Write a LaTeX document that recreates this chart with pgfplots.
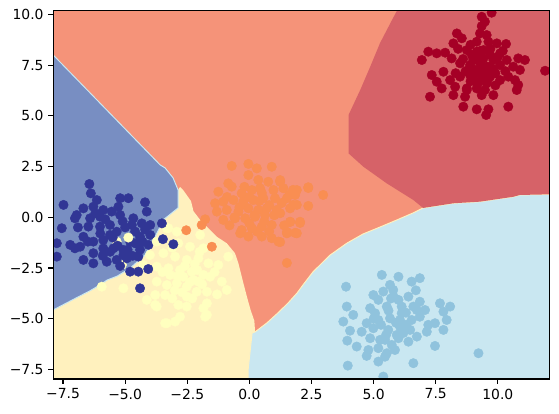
\documentclass[border=0pt]{standalone}
\usepackage{fontspec}
\setmainfont{DejaVu Sans}
\usepackage{pgfplots}
\pgfplotsset{compat=1.18}
\definecolor{regRed}{RGB}{214,98,104}
\definecolor{regSalmon}{RGB}{245,147,121}
\definecolor{regYellow}{RGB}{255,241,190}
\definecolor{regLBlue}{RGB}{201,231,241}
\definecolor{regBlue}{RGB}{120,142,194}
\definecolor{ptRed}{RGB}{165,0,38}
\definecolor{ptOrange}{RGB}{249,142,82}
\definecolor{ptYellow}{RGB}{255,255,191}
\definecolor{ptLBlue}{RGB}{144,195,221}
\definecolor{ptBlue}{RGB}{49,54,149}
\begin{document}
\begin{tikzpicture}
\begin{axis}[name=ax,
  scale only axis, width=357.1pt, height=265.2pt,
  xmin=-7.89, xmax=12.07, ymin=-7.97, ymax=10.18,
  xtick={-7.5,-5,-2.5,0,2.5,5,7.5,10},
  xticklabels={−7.5,−5.0,−2.5,0.0,2.5,5.0,7.5,10.0},
  ytick={-7.5,-5,-2.5,0,2.5,5,7.5,10},
  yticklabels={−7.5,−5.0,−2.5,0.0,2.5,5.0,7.5,10.0},
  xtick pos=bottom, ytick pos=left,
  tick align=outside, major tick length=3.5pt,
  every tick/.style={black, line width=0.8pt},
  axis line style={line width=0.8pt},
  tick label style={font=\fontsize{10}{12}\selectfont},
  axis on top, clip marker paths=true,
  pts/.style={only marks, mark=*, mark size=3.4pt, color=#1, mark options={draw=#1, fill=#1, line width=0.3pt}},
]
% background (class 1 region)
\addplot[fill=regSalmon, draw=none] coordinates {(-8.5,-8.5) (12.5,-8.5) (12.5,10.5) (-8.5,10.5)} -- cycle;
% class 2 region (light yellow)
\addplot[fill=regYellow, draw=none] coordinates {
(-8.5,-8.5) (-8.5,0) (-2.87,0.46) (-2.87,1.35) (-2.79,1.49) (-2.67,1.35) (-2.35,0.8) (-2.25,0.3) (-2.0,-0.1) (-1.7,-0.48) (-1.31,-0.96) (-0.91,-1.28) (-0.58,-1.77) (-0.44,-2.27) (-0.24,-3.25) (-0.10,-3.91) (0.05,-4.57) (0.2,-5.1) (0.23,-5.65) (0.6,-6.0) (0.6,-8.5)} -- cycle;
% class 4 region (blue)
\addplot[fill=regBlue, draw=regLBlue, line width=0.7pt] coordinates {
(-8.2,8.38) (-3.59,2.58) (-3.39,2.43) (-3.07,1.94) (-2.87,1.35) (-2.87,0.46) (-3.47,-0.13) (-3.59,-0.46) (-3.85,-1.1) (-4.20,-1.86) (-4.80,-2.51) (-5.32,-2.90) (-5.72,-3.09) (-6.01,-3.33) (-6.41,-3.62) (-7.09,-4.05) (-7.90,-4.57) (-8.2,-4.7)} -- cycle;
% class 3 region (light blue)
\addplot[fill=regLBlue, draw=regYellow, line width=0.7pt] coordinates {
(-0.05,-8.5) (-0.05,-7.51) (0.11,-5.70) (0.23,-5.65) (0.71,-5.20) (1.15,-4.71) (1.56,-4.22) (1.92,-3.73) (2.16,-3.33) (2.56,-2.69) (3.25,-1.86) (3.93,-1.27) (4.58,-0.82) (5.26,-0.48) (5.94,-0.13) (6.58,0.21) (6.99,0.46) (8.21,0.69) (9.28,0.77) (10.62,1.01) (10.89,1.10) (12.06,1.13) (12.5,1.13) (12.5,-8.5)} -- cycle;
% class 0 region (red)
\addplot[fill=regRed, draw=none] coordinates {
(5.94,10.5) (5.94,10.18) (5.74,9.72) (5.26,8.59) (4.86,7.41) (4.46,6.27) (3.99,5.04) (3.99,3.15) (4.59,2.49) (5.53,1.67) (6.60,0.85) (6.99,0.46) (8.21,0.69) (9.28,0.77) (10.62,1.01) (10.89,1.10) (12.06,1.13) (12.5,1.13) (12.5,10.5)} -- cycle;

% light blue points (class 3)
\addplot[pts=ptLBlue] table {
5.33 -2.84
6.00 -2.93
6.86 -3.00
6.53 -3.17
5.66 -3.33
3.89 -3.42
4.99 -3.83
5.39 -3.66
5.79 -3.58
5.19 -4.07
6.00 -4.07
6.40 -3.91
6.86 -4.16
3.92 -4.40
4.86 -4.48
5.53 -4.40
6.13 -4.40
6.74 -4.57
7.07 -4.57
7.67 -4.24
8.08 -4.40
7.81 -4.65
4.18 -4.81
3.78 -5.14
4.72 -5.22
5.19 -5.06
5.66 -4.98
6.06 -5.06
6.53 -5.06
6.86 -4.90
7.20 -5.30
7.47 -5.22
7.94 -5.06
4.05 -5.59
4.52 -5.64
4.99 -5.47
5.59 -5.55
6.06 -5.39
6.47 -5.55
6.74 -5.88
7.14 -5.64
7.81 -5.55
3.94 -6.08
4.86 -5.96
5.46 -6.04
6.00 -5.96
6.40 -6.13
4.32 -6.37
4.79 -6.54
5.19 -6.45
5.53 -6.70
5.86 -6.54
4.72 -6.83
5.46 -6.87
7.47 -6.34
9.22 -6.70
3.96 -7.31
5.19 -7.11
6.60 -7.19
5.39 -7.85
5.93 -5.80
5.06 -4.73
6.13 -4.73
5.26 -6.04
5.73 -6.29
5.6 -4.6
6.3 -4.7
5.9 -5.2
6.3 -5.3
5.3 -5.3
5.7 -4.0
5.0 -5.0
6.6 -4.4
5.5 -5.8
6.2 -5.7
5.8 -3.9
6.7 -3.6
};
% red points (class 0)
\addplot[pts=ptRed] table {
9.75 10.08
9.35 9.88
9.48 9.64
9.35 9.42
9.28 9.06
8.35 9.06
9.55 8.98
8.55 8.82
8.21 8.57
9.15 8.65
9.62 8.65
9.96 8.57
10.33 8.54
7.20 8.16
7.54 8.08
7.88 8.11
6.94 7.75
8.14 7.83
8.75 8.24
8.95 8.00
9.42 8.24
9.69 8.00
10.09 8.08
10.36 7.75
10.82 7.83
11.09 7.75
8.48 7.59
8.88 7.50
9.28 7.59
9.69 7.42
10.09 7.50
10.62 7.42
10.89 7.26
11.90 7.22
7.34 7.01
7.81 7.17
8.08 6.76
8.48 6.93
8.88 7.01
9.28 7.09
9.69 6.93
10.09 6.76
10.42 6.93
10.69 6.76
7.54 6.68
7.74 6.35
8.28 6.43
8.75 6.35
9.15 6.35
9.48 6.27
9.82 6.02
10.76 6.27
10.82 6.52
7.27 5.94
8.21 6.02
8.68 5.94
9.35 6.02
8.61 5.45
9.15 5.32
9.62 5.32
9.53 5.04
10.42 5.45
8.75 6.27
9.15 6.68
9.55 6.60
9.01 7.75
9.42 7.83
9.82 7.75
9.15 8.16
9.55 7.42
9.28 7.26
9.1 7.9
9.5 7.2
9.7 8.3
9.0 7.3
9.3 8.2
8.7 7.2
9.9 7.1
9.6 6.8
8.9 6.7
9.4 6.9
8.4 8.3
10.2 8.2
9.0 7.0
8.6 7.8
9.8 7.3
10.0 7.9
8.3 7.1
9.2 6.6
10.3 7.2
8.9 8.5
9.9 6.5
};
% yellow points partly hidden under blue
\addplot[pts=ptYellow] table {
-5.34 -1.20
-5.13 -2.35
-4.27 -2.35
};
% blue points (class 4)
\addplot[pts=ptBlue] table {
-6.44 1.64
-6.38 1.18
-6.14 0.85
-7.48 0.61
-6.68 0.44
-6.95 0.11
-6.28 0.52
-5.88 0.36
-5.54 0.28
-5.20 0.94
-4.87 0.94
-5.27 0.52
-4.20 0.74
-4.13 0.28
-4.67 -0.05
-7.02 -0.05
-6.41 -0.05
-6.01 0.03
-5.20 0.11
-7.55 -0.54
-6.48 -0.46
-6.01 -0.46
-5.61 -0.38
-4.73 -0.38
-4.33 -0.30
-3.99 -0.38
-6.68 -0.96
-6.28 -1.20
-5.88 -1.12
-5.61 -0.87
-4.40 -0.96
-3.99 -0.87
-7.75 -1.28
-7.21 -1.36
-6.81 -1.45
-5.88 -1.53
-5.47 -1.53
-4.60 -1.28
-4.06 -1.36
-7.75 -1.94
-6.68 -2.10
-6.28 -2.27
-5.74 -2.19
-5.34 -2.10
-4.93 -2.02
-4.47 -1.94
-6.28 -1.77
-4.80 -2.68
-4.47 -2.68
-7.02 -1.53
-5.07 -1.61
-4.80 -1.20
-5.34 -0.71
-5.07 -1.86
-5.0 -0.5
-4.6 -0.7
-4.5 -1.3
-5.3 -1.4
-4.9 -1.6
-5.5 -1.0
-4.4 -1.6
-5.1 -0.2
-4.7 -1.9
-5.6 -1.7
-6.0 -0.8
-6.5 -1.2
-5.8 -0.1
-6.2 0.2
-5.2 -2.4
-5.9 -1.9
-6.9 -0.5
-4.2 -0.6
-4.3 -1.2
};
% yellow points (class 2)
\addplot[pts=ptYellow] table {
-4.87 -1.00
-3.26 -0.54
-1.98 -0.87
-3.73 -1.20
-2.86 -1.28
-2.39 -1.45
-1.85 -1.53
-0.85 -1.94
-3.46 -1.77
-2.99 -1.94
-2.52 -2.10
-2.05 -2.02
-1.65 -2.27
-1.25 -2.35
-3.73 -2.43
-3.26 -2.51
-2.79 -2.60
-2.32 -2.68
-1.85 -2.84
-1.58 -2.93
-1.11 -3.17
-3.73 -3.17
-3.32 -3.34
-2.92 -3.25
-2.52 -3.42
-2.12 -3.67
-1.71 -3.67
-0.91 -3.58
-3.79 -3.83
-3.39 -3.83
-2.52 -3.91
-2.86 -4.32
-2.52 -4.40
-1.85 -4.48
-1.71 -4.24
-1.78 -4.90
-2.79 -4.90
-2.99 -5.14
-3.39 -5.22
-3.79 -4.32
-2.25 -3.09
-2.66 -2.93
-3.19 -2.84
-2.05 -3.17
-3.32 -0.54
-5.94 -3.42
-4.00 -1.86
-2.92 -0.71
-4.13 -4.07
-3.73 -4.40
-3.32 -5.22
-1.71 -4.81
-5.07 -3.50
-2.6 -2.4
-2.2 -2.3
-2.9 -2.9
-2.4 -3.2
-1.9 -3.3
-3.0 -3.6
-2.7 -3.7
-2.1 -2.6
-3.5 -2.7
-1.4 -2.7
-2.3 -4.0
-3.1 -4.0
-1.3 -3.8
-2.0 -1.7
-3.1 -1.5
};
% blue points over the yellow region
\addplot[pts=ptBlue] table {
-3.52 -0.30
-3.48 -1.08
-3.06 -1.33
-4.07 -2.55
-4.40 -3.50
};
% orange points (class 1)
\addplot[pts=ptOrange] table {
-0.71 2.53
-0.04 2.63
0.30 2.41
0.90 2.49
-0.04 2.08
-0.85 1.67
-0.71 1.51
-1.25 1.26
0.36 1.84
0.76 1.75
1.24 1.75
-0.31 1.18
0.10 1.34
0.43 1.43
0.97 1.34
1.37 1.43
1.91 1.34
2.37 1.48
-1.38 0.69
-1.05 0.77
-0.64 0.85
-0.24 0.77
0.16 0.85
0.56 0.94
1.03 0.94
1.51 0.94
1.84 1.10
-1.31 0.28
-0.91 0.36
-0.44 0.28
-0.04 0.44
0.36 0.36
0.70 0.44
1.10 0.36
1.64 0.44
1.91 0.61
2.37 0.56
-1.05 -0.13
-0.58 -0.05
-0.17 -0.05
0.23 0.03
0.63 0.11
1.24 0.20
1.64 -0.22
2.04 -0.22
-1.78 -0.10
-1.92 -0.38
-0.31 -0.63
0.10 -0.54
0.50 -0.46
0.90 -0.38
-0.37 -0.79
-0.04 -0.95
0.50 -0.95
0.90 -1.03
1.17 -1.20
1.51 -0.79
1.91 -0.79
-2.54 -0.64
-1.51 -1.45
1.24 1.83
1.76 1.35
2.37 1.44
2.97 1.10
1.76 0.61
1.64 -0.23
2.04 -0.28
1.51 -0.72
1.84 -0.77
1.24 -1.22
1.51 -2.25
0.0 1.0
0.4 0.8
0.8 0.6
-0.4 0.5
0.2 0.1
0.6 -0.2
1.3 0.7
-0.6 0.0
0.0 -0.3
1.0 0.1
0.5 1.2
-0.2 1.5
1.6 1.1
-0.9 1.0
0.3 -0.7
0.8 -0.7
1.4 -0.4
-0.8 -0.4
};
\end{axis}
\path ([shift={(-38.4pt,-24.5pt)}]ax.south west) rectangle ([shift={(7.0pt,7.7pt)}]ax.north east);
\end{tikzpicture}
\end{document}
